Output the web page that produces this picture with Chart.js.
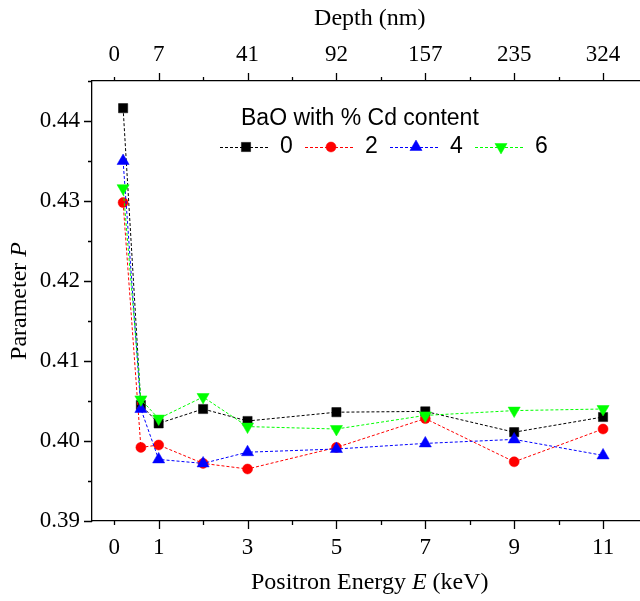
<!DOCTYPE html>
<html>
<head>
<meta charset="utf-8">
<title>Parameter P vs positron energy</title>
<script src="https://cdn.jsdelivr.net/npm/chart.js@4.4.0/dist/chart.umd.min.js"></script>
<style>
  html, body { margin: 0; padding: 0; background: #fff; overflow: hidden; }
  #wrap { width: 655px; height: 601px; }
</style>
</head>
<body>
<div id="wrap"><canvas id="grafico"></canvas></div>
<script>
// energias de los positrones (keV)
const energia = [0.2, 0.6, 1, 2, 3, 5, 7, 9, 11];

// parametro P por contenido de Cd
const cd0 = [0.4416, 0.4045, 0.4022, 0.4040, 0.4025, 0.4036, 0.4037, 0.4011, 0.4030];
const cd2 = [0.4298, 0.3992, 0.3995, 0.3972, 0.3965, 0.3992, 0.4028, 0.3974, 0.4015];
const cd4 = [0.4350, 0.4040, 0.3977, 0.3972, 0.3986, 0.3990, 0.3997, 0.4002, 0.3982];
const cd6 = [0.4316, 0.4052, 0.4028, 0.4055, 0.4018, 0.4015, 0.4032, 0.4038, 0.4040];

const contenidos = ['0', '2', '4', '6'];
const ticksEnergia = [0, 1, 3, 5, 7, 9, 11];
const ticksProfundidad = ['0', '7', '41', '92', '157', '235', '324'];
const ticksP = [0.39, 0.40, 0.41, 0.42, 0.43, 0.44];

const serif = 'Liberation Serif';
const sans = 'Liberation Sans';

const estilos = [
  { color: '#000000', forma: 'rect', radio: 6.5, giro: 0 },
  { color: '#ff0000', forma: 'circle', radio: 5, giro: 0 },
  { color: '#0000ff', forma: 'triangle', radio: 7, giro: 0 },
  { color: '#00ff00', forma: 'triangle', radio: 7, giro: 180 }
];

const valores = [cd0, cd2, cd4, cd6];

const datasets = valores.map((serie, i) => ({
  label: contenidos[i],
  data: serie.map((p, j) => ({ x: energia[j], y: p })),
  borderColor: estilos[i].color,
  backgroundColor: estilos[i].color,
  borderWidth: 1,
  borderDash: [3, 2],
  pointStyle: estilos[i].forma,
  pointRadius: estilos[i].radio,
  pointRotation: estilos[i].giro,
  pointBackgroundColor: estilos[i].color,
  pointBorderColor: estilos[i].color,
  pointBorderWidth: 0.5,
  tension: 0,
  order: 4 - i
}));

// marcas de los ejes (mayores y menores), hacia afuera
const marcas = {
  id: 'marcas',
  afterDraw(chart) {
    const ctx = chart.ctx;
    const a = chart.chartArea;
    const x = chart.scales.x;
    const y = chart.scales.y;
    ctx.save();
    ctx.strokeStyle = '#000';
    ctx.lineWidth = 1.3;
    ctx.beginPath();
    for (let v = 0; v <= 12; v++) {
      const largo = v % 2 ? 8 : 4;
      const px = Math.round(x.getPixelForValue(v)) + 0.5;
      ctx.moveTo(px, a.bottom);
      ctx.lineTo(px, a.bottom + largo);
      ctx.moveTo(px, a.top);
      ctx.lineTo(px, a.top - largo);
    }
    for (let i = 0; i <= 11; i++) {
      const largo = i % 2 ? 4 : 8;
      const py = Math.round(y.getPixelForValue(0.39 + i * 0.005)) + 0.5;
      ctx.moveTo(a.left, py);
      ctx.lineTo(a.left - largo, py);
    }
    ctx.stroke();
    ctx.restore();
  }
};

// titulos con letra cursiva
function textoMixto(ctx, partes, cx, cy, size) {
  let ancho = 0;
  partes.forEach(p => {
    ctx.font = (p[1] ? 'italic ' : '') + size + 'px "' + serif + '"';
    ancho += ctx.measureText(p[0]).width;
  });
  let xx = cx - ancho / 2;
  partes.forEach(p => {
    ctx.font = (p[1] ? 'italic ' : '') + size + 'px "' + serif + '"';
    ctx.fillText(p[0], xx, cy);
    xx += ctx.measureText(p[0]).width;
  });
}

const titulos = {
  id: 'titulos',
  afterDraw(chart) {
    const ctx = chart.ctx;
    const a = chart.chartArea;
    ctx.save();
    ctx.fillStyle = '#000';
    ctx.textBaseline = 'middle';
    ctx.textAlign = 'left';
    textoMixto(ctx, [['Positron Energy ', false], ['E', true], [' (keV)', false]], (a.left + a.right) / 2, 583, 24);
    ctx.translate(20, (a.top + a.bottom) / 2);
    ctx.rotate(-Math.PI / 2);
    textoMixto(ctx, [['Parameter ', false], ['P', true]], 0, 0, 24);
    ctx.restore();
  }
};

// leyenda con linea y simbolo
const leyenda = {
  id: 'leyenda',
  afterDraw(chart) {
    const ctx = chart.ctx;
    ctx.save();
    ctx.fillStyle = '#000';
    ctx.textBaseline = 'middle';
    ctx.textAlign = 'left';
    ctx.font = '23px "' + sans + '"';
    ctx.fillText('BaO with % Cd content', 241, 119);
    chart.data.datasets.forEach((ds, i) => {
      const x0 = 220 + i * 85;
      const yy = 147;
      ctx.strokeStyle = ds.borderColor;
      ctx.lineWidth = 1;
      ctx.setLineDash(ds.borderDash);
      ctx.beginPath();
      ctx.moveTo(x0, yy + 0.5);
      ctx.lineTo(x0 + 50, yy + 0.5);
      ctx.stroke();
      ctx.setLineDash([]);
      ctx.fillStyle = ds.pointBackgroundColor;
      ctx.strokeStyle = ds.pointBorderColor;
      ctx.lineWidth = ds.pointBorderWidth;
      Chart.helpers.drawPoint(ctx, {
        pointStyle: ds.pointStyle,
        radius: ds.pointRadius,
        rotation: ds.pointRotation,
        borderWidth: ds.pointBorderWidth
      }, x0 + 26, yy);
      ctx.fillStyle = '#000';
      ctx.font = '23px "' + sans + '"';
      ctx.fillText(ds.label, x0 + 60, yy);
    });
    ctx.restore();
  }
};

const grafico = document.getElementById('grafico');

new Chart(grafico, {
  type: 'line',
  data: { datasets: datasets },
  options: {
    responsive: true,
    maintainAspectRatio: false,
    animation: false,
    layout: { padding: { left: 0, right: 4, top: 0, bottom: 0 } },
    plugins: {
      legend: { display: false },
      tooltip: { enabled: false }
    },
    scales: {
      x: {
        type: 'linear',
        position: 'bottom',
        min: -0.5,
        max: 12,
        afterBuildTicks: s => { s.ticks = ticksEnergia.map(v => ({ value: v })); },
        afterFit: s => { s.height = 80; },
        grid: { display: false, drawTicks: false },
        border: { display: true, color: '#000', width: 1.3 },
        ticks: {
          color: '#000',
          font: { family: serif, size: 23 },
          padding: 13,
          maxRotation: 0,
          autoSkip: false,
          callback: v => String(v)
        }
      },
      x2: {
        type: 'linear',
        position: 'top',
        min: -0.5,
        max: 12,
        afterBuildTicks: s => { s.ticks = ticksEnergia.map(v => ({ value: v })); },
        afterFit: s => { s.height = 81; },
        grid: { display: false, drawTicks: false },
        border: { display: true, color: '#000', width: 1.3 },
        title: {
          display: true,
          text: 'Depth (nm)',
          color: '#000',
          font: { family: serif, size: 24 },
          padding: { top: 4, bottom: 0 }
        },
        ticks: {
          color: '#000',
          font: { family: serif, size: 23 },
          padding: 12,
          maxRotation: 0,
          autoSkip: false,
          callback: v => ticksProfundidad[ticksEnergia.indexOf(v)]
        }
      },
      y: {
        type: 'linear',
        position: 'left',
        min: 0.39,
        max: 0.445,
        afterBuildTicks: s => { s.ticks = ticksP.map(v => ({ value: v })); },
        afterFit: s => { s.width = 92; },
        grid: { display: false, drawTicks: false },
        border: { display: true, color: '#000', width: 1.3 },
        ticks: {
          color: '#000',
          font: { family: serif, size: 23 },
          padding: 12,
          callback: v => v.toFixed(2)
        }
      }
    }
  },
  plugins: [marcas, titulos, leyenda]
});
</script>
</body>
</html>
